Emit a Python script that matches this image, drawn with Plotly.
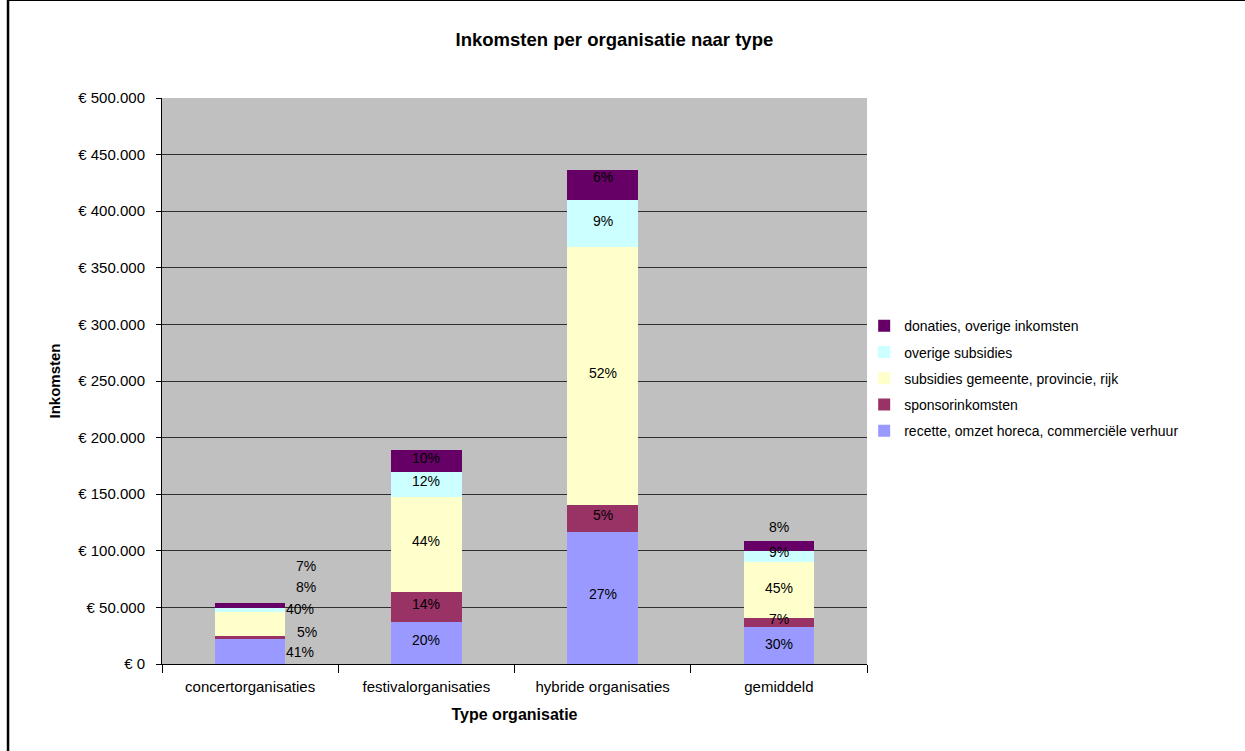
import plotly.graph_objects as go

# Income per organisation type (euro), stacked by source of income
categories = ["concertorganisaties", "festivalorganisaties", "hybride organisaties", "gemiddeld"]

series_names = [
    "recette, omzet horeca, commerciële verhuur",
    "sponsorinkomsten",
    "subsidies gemeente, provincie, rijk",
    "overige subsidies",
    "donaties, overige inkomsten",
]

recette = [21700, 37400, 116900, 33000]
sponsor = [2650, 26500, 23600, 7700]
subsidies = [21200, 83900, 228000, 49500]
overige_subsidies = [4240, 22000, 41200, 9900]
donaties = [3710, 19000, 26500, 8800]

series_values = [recette, sponsor, subsidies, overige_subsidies, donaties]
series_colors = ["#9999FF", "#993366", "#FFFFCC", "#CCFFFF", "#660066"]

y_ticks = [0, 50000, 100000, 150000, 200000, 250000, 300000, 350000, 400000, 450000, 500000]
y_ticktext = ["€ " + f"{v:,}".replace(",", ".") for v in y_ticks]

# Pixel offsets for the percentage labels (per category, per series)
label_dx = [
    [50, 57, 50, 56, 56],
    [0, 0, 0, 0, 0],
    [0, 0, 0, 0, 0],
    [0, 0, 0, 0, 0],
]
label_dy = [
    [0, 6, 15, 23, 40],
    [3, 3, 3, 3, 3],
    [4, 3, 3, 3, 8],
    [1, 3, 2, 4, 19],
]

FONT = "Liberation Sans, Arial"

fig = go.Figure()
n = len(series_names)
for k, (name, vals, color) in enumerate(zip(series_names, series_values, series_colors)):
    fig.add_trace(go.Bar(
        x=categories, y=vals, name=name, legendgroup=name,
        legendrank=n - k,
        marker=dict(color=color, line=dict(width=0)),
        hoverinfo="skip",
    ))

# Percentage share labels, centred on each segment
totals = [sum(s[i] for s in series_values) for i in range(len(categories))]
for i, cat in enumerate(categories):
    base = 0
    for j, vals in enumerate(series_values):
        v = vals[i]
        share = round(v / totals[i] * 100)
        fig.add_annotation(
            x=cat, y=base + v / 2, xref="x", yref="y",
            text=f"{share}%", showarrow=False,
            xshift=label_dx[i][j], yshift=label_dy[i][j],
            font=dict(family=FONT, size=14, color="#000000"),
        )
        base += v

# Chart-area frame (left and top edges)
fig.add_shape(type="line", xref="paper", yref="paper",
              x0=-0.2184, x1=-0.2184, y0=-0.16, y1=1.18,
              line=dict(color="#000000", width=2.5))
fig.add_shape(type="line", xref="paper", yref="paper",
              x0=-0.2184, x1=1.6, y0=1.1725, y1=1.1725,
              line=dict(color="#000000", width=1.5))

fig.update_layout(
    width=1245, height=751,
    margin=dict(l=162, r=378, t=98, b=87),
    paper_bgcolor="#FFFFFF",
    plot_bgcolor="#C0C0C0",
    barmode="stack",
    bargap=0.6,
    font=dict(family=FONT, size=13, color="#000000"),
    title=dict(
        text="<b>Inkomsten per organisatie naar type</b>",
        x=0.4935, xanchor="center", y=0.947, yanchor="middle",
        font=dict(size=18.5, color="#000000"),
    ),
    legend=dict(
        x=0.996, y=0.625, xanchor="left", yanchor="top",
        traceorder="grouped", tracegroupgap=5,
        font=dict(size=14, color="#000000"),
        bgcolor="rgba(0,0,0,0)",
        itemwidth=30,
    ),
    showlegend=True,
)

fig.update_xaxes(
    type="category",
    showline=True, linecolor="#000000", linewidth=1,
    ticks="outside", tickson="boundaries", ticklen=8, tickcolor="#000000",
    ticklabelstandoff=9,
    tickfont=dict(size=15),
    title=dict(text="<b>Type organisatie</b>", font=dict(size=16), standoff=14),
    showgrid=False,
)

fig.update_yaxes(
    range=[0, 500000],
    tickvals=y_ticks, ticktext=y_ticktext,
    showline=True, linecolor="#000000", linewidth=1,
    ticks="outside", ticklen=5, tickcolor="#000000",
    ticklabelstandoff=8,
    tickfont=dict(size=15),
    showgrid=True, gridcolor="#303030", gridwidth=1,
    zeroline=False,
    title=dict(text="<b>Inkomsten</b>", font=dict(size=15), standoff=14),
)

fig.write_html("out.html")
